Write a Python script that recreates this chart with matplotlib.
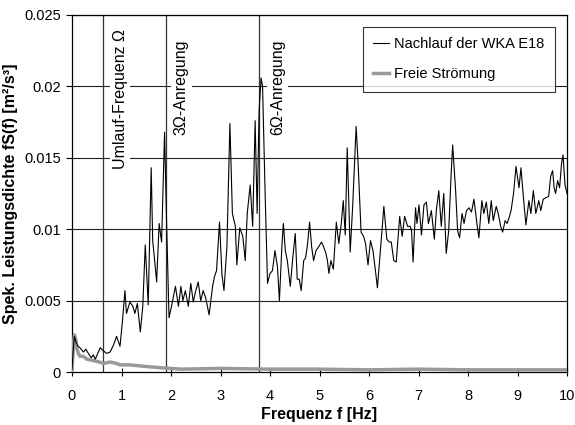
import matplotlib
matplotlib.use("Agg")
import matplotlib.pyplot as plt

plt.rcParams['font.family'] = ['Liberation Sans', 'DejaVu Sans']

# Nachlauf der WKA E18 (black)
wake_f = [0.00, 0.03, 0.05, 0.08, 0.12, 0.16, 0.23, 0.28, 0.33, 0.39, 0.43, 0.47, 0.52, 0.57,
          0.63, 0.70, 0.77, 0.84, 0.90, 0.97, 1.02, 1.07, 1.10, 1.17, 1.23, 1.27, 1.32, 1.38,
          1.43, 1.48, 1.54, 1.60, 1.63, 1.67, 1.71, 1.76, 1.81, 1.87, 1.91, 1.96, 2.01, 2.06,
          2.09, 2.15, 2.20, 2.24, 2.29, 2.35, 2.40, 2.45, 2.50, 2.55, 2.60, 2.65, 2.70, 2.77,
          2.84, 2.88, 2.92, 2.98, 3.03, 3.07, 3.13, 3.19, 3.24, 3.30, 3.33, 3.39, 3.45, 3.50,
          3.54, 3.60, 3.65, 3.70, 3.74, 3.78, 3.82, 3.85, 3.90, 3.95, 4.00, 4.05, 4.10, 4.15,
          4.19, 4.24, 4.27, 4.31, 4.35, 4.41, 4.46, 4.51, 4.55, 4.59, 4.63, 4.68, 4.72, 4.76,
          4.80, 4.84, 4.88, 4.93, 4.99, 5.04, 5.08, 5.13, 5.16, 5.19, 5.23, 5.28, 5.34, 5.39,
          5.44, 5.48, 5.52, 5.56, 5.62, 5.67, 5.74, 5.78, 5.84, 5.89, 5.93, 5.98, 6.03, 6.08,
          6.13, 6.17, 6.21, 6.26, 6.30, 6.36, 6.41, 6.45, 6.50, 6.55, 6.62, 6.67, 6.72, 6.78,
          6.83, 6.86, 6.89, 6.94, 6.97, 7.01, 7.06, 7.11, 7.16, 7.20, 7.26, 7.32, 7.36, 7.41,
          7.46, 7.51, 7.56, 7.61, 7.66, 7.69, 7.75, 7.79, 7.83, 7.88, 7.92, 7.97, 8.02, 8.07,
          8.12, 8.18, 8.22, 8.28, 8.32, 8.37, 8.42, 8.47, 8.51, 8.57, 8.61, 8.66, 8.70, 8.75,
          8.79, 8.83, 8.87, 8.92, 8.97, 9.03, 9.07, 9.12, 9.17, 9.23, 9.27, 9.32, 9.37, 9.43,
          9.47, 9.52, 9.57, 9.63, 9.67, 9.71, 9.74, 9.77, 9.81, 9.85, 9.89, 9.92, 9.96, 10.00]
wake_s = [0.0002, 0.0018, 0.0025, 0.0021, 0.0018, 0.0017, 0.0014, 0.0016, 0.0013, 0.0010, 0.0012, 0.0009, 0.0013, 0.0017,
          0.0015, 0.0013, 0.0014, 0.0019, 0.0025, 0.0018, 0.0036, 0.0057, 0.0041, 0.0049, 0.0046, 0.0041, 0.0048, 0.0028,
          0.0046, 0.0089, 0.0047, 0.0143, 0.0092, 0.0078, 0.0063, 0.0104, 0.0091, 0.0168, 0.0106, 0.0038, 0.0046, 0.0055,
          0.0060, 0.0046, 0.0060, 0.0050, 0.0057, 0.0046, 0.0062, 0.0049, 0.0057, 0.0063, 0.0050, 0.0057, 0.0052, 0.0040,
          0.0060, 0.0067, 0.0071, 0.0105, 0.0068, 0.0057, 0.0088, 0.0174, 0.0111, 0.0102, 0.0075, 0.0101, 0.0095, 0.0078,
          0.0111, 0.0131, 0.0102, 0.0176, 0.0111, 0.0183, 0.0206, 0.0200, 0.0127, 0.0062, 0.0069, 0.0071, 0.0085, 0.0074,
          0.0050, 0.0088, 0.0104, 0.0085, 0.0078, 0.0060, 0.0080, 0.0097, 0.0065, 0.0065, 0.0057, 0.0078, 0.0080, 0.0090,
          0.0105, 0.0088, 0.0078, 0.0085, 0.0088, 0.0091, 0.0088, 0.0083, 0.0078, 0.0069, 0.0078, 0.0072, 0.0105, 0.0090,
          0.0104, 0.0120, 0.0096, 0.0157, 0.0084, 0.0116, 0.0172, 0.0146, 0.0098, 0.0095, 0.0090, 0.0075, 0.0092, 0.0085,
          0.0071, 0.0059, 0.0076, 0.0098, 0.0116, 0.0093, 0.0091, 0.0091, 0.0078, 0.0077, 0.0109, 0.0095, 0.0109, 0.0102,
          0.0102, 0.0099, 0.0077, 0.0115, 0.0104, 0.0117, 0.0096, 0.0117, 0.0119, 0.0104, 0.0113, 0.0093, 0.0113, 0.0127,
          0.0102, 0.0125, 0.0083, 0.0099, 0.0139, 0.0159, 0.0127, 0.0099, 0.0094, 0.0111, 0.0104, 0.0113, 0.0115, 0.0112,
          0.0121, 0.0104, 0.0094, 0.0120, 0.0111, 0.0119, 0.0104, 0.0120, 0.0106, 0.0116, 0.0111, 0.0102, 0.0098, 0.0106,
          0.0104, 0.0108, 0.0113, 0.0125, 0.0144, 0.0129, 0.0143, 0.0122, 0.0103, 0.0120, 0.0111, 0.0127, 0.0111, 0.0120,
          0.0113, 0.0121, 0.0122, 0.0123, 0.0137, 0.0141, 0.0129, 0.0125, 0.0134, 0.0129, 0.0146, 0.0152, 0.0131, 0.0125]

# Freie Strömung (grey)
free_f = [0.00, 0.03, 0.05, 0.08, 0.10, 0.13, 0.16, 0.23, 0.30, 0.43, 0.55, 0.63, 0.77, 0.90,
          0.97, 1.17, 1.45, 1.78, 2.2, 3.0, 4.0, 5.0, 6.0, 7.0, 8.0, 9.0, 10.0]
free_s = [0.0000, 0.0020, 0.0026, 0.0022, 0.0016, 0.0013, 0.0011, 0.0011, 0.0009, 0.0008, 0.0007, 0.0006, 0.0007, 0.0006,
          0.0005, 0.0005, 0.0004, 0.0003, 0.0002, 0.00025, 0.0002, 0.0002, 0.00015, 0.0002, 0.00015, 0.00015, 0.00015]

marker_f = [0.63, 1.89, 3.78]
marker_labels = ["Umlauf-Frequenz Ω", "3Ω-Anregung", "6Ω-Anregung"]
label_f = [0.97, 2.21, 4.15]
label_top = [0.0240, 0.0233, 0.0233]

yticks = [0, 0.005, 0.01, 0.015, 0.02, 0.025]
ytick_labels = ["0", "0.005", "0.01", "0.015", "0.02", "0.025"]
xticks = list(range(0, 11))

fig = plt.figure(figsize=(5.75, 4.25), dpi=100)
ax = fig.add_axes([72/575, 1-372/425, 495/575, 357/425])

for y in yticks[1:]:
    ax.axhline(y, color='#222222', lw=0.8, zorder=1)

for mf in marker_f:
    ax.axvline(mf, color='#333333', lw=0.9, zorder=1.5)

for lf, lt, txt in zip(label_f, label_top, marker_labels):
    ax.text(lf, lt, txt, rotation=90, ha='center', va='top', fontsize=11.5,
            bbox=dict(facecolor='white', edgecolor='none', pad=2), zorder=2)

ax.plot(free_f, free_s, color='#999999', lw=2.5, label='Freie Strömung', zorder=3)
ax.plot(wake_f, wake_s, color='black', lw=0.8, label='Nachlauf der WKA E18', zorder=4)

ax.set_xlim(0, 10)
ax.set_ylim(0, 0.025)
ax.set_xticks(xticks)
ax.set_xticklabels([str(x) for x in xticks], fontsize=10.5)
ax.set_yticks(yticks)
ax.set_yticklabels(ytick_labels, fontsize=10.5)
ax.tick_params(axis='y', direction='out', length=4, width=0.8, pad=4)
ax.tick_params(axis='x', direction='inout', length=6, width=0.8, pad=9)
for sp in ax.spines.values():
    sp.set_linewidth(0.9)

ax.set_xlabel("Frequenz f [Hz]", fontsize=11.5, fontweight='bold', labelpad=3)
ax.set_ylabel("Spek. Leistungsdichte fS(f) [m²/s³]", fontsize=11.5, fontweight='bold', labelpad=4)

h, l = ax.get_legend_handles_labels()
leg = ax.legend(h[::-1], l[::-1], loc='upper left', bbox_to_anchor=(0.588, 0.966),
                fontsize=10.5, frameon=True, fancybox=False, shadow=False,
                borderpad=0.7, labelspacing=1.1, handlelength=1.1, handletextpad=0.35,
                borderaxespad=0)
leg.get_frame().set_edgecolor('black')
leg.get_frame().set_linewidth(0.8)
leg.set_zorder(10)

fig.savefig("out.png", dpi=100)
